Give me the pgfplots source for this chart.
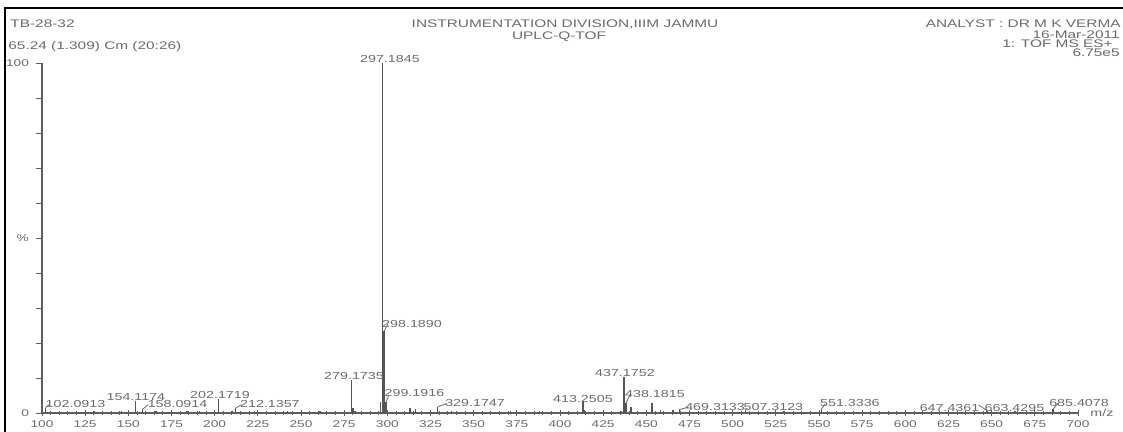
\documentclass[border=0pt]{standalone}
\usepackage{pgfplots}
\pgfplotsset{compat=1.18}
\usepackage{fontspec}
\setmainfont{Liberation Sans}
\newfontfamily\specfont[FakeStretch=1.4]{Liberation Sans}
\newcommand\lab{\specfont\fontsize{5.1}{6}\selectfont}
\newcommand\headlab{\specfont\fontsize{5.5}{6.5}\selectfont}
\newcommand\ticklab{\specfont\fontsize{4.9}{5.5}\selectfont}
\definecolor{inkgrey}{HTML}{6A6A6A}
\definecolor{peakgrey}{HTML}{555555}
\definecolor{axisgrey}{HTML}{5E5E5E}

\begin{document}
\begin{tikzpicture}[x=1pt,y=1pt,
  peaklab/.style={font=\lab, text=inkgrey, inner sep=0pt},
  leader/.style={inkgrey, line width=0.4pt}]
\path[use as bounding box] (-21,-9.5) rectangle (540.5,206.5);
% frame
\draw[black, line width=1.4pt] (-18.5,-9.5) -- (-18.5,202.5) -- (541,202.5);
\begin{axis}[
  at={(0,0)}, anchor=south west, scale only axis,
  width=518pt, height=175pt,
  xmin=100, xmax=700, ymin=0, ymax=100,
  axis x line*=bottom, axis y line*=left,
  axis line style={axisgrey, line width=0.9pt},
  xtick={100,125,...,700}, minor x tick num=4,
  xtick align=center, ytick align=outside,
  major tick length=3pt, minor tick length=2pt,
  ytick={0,10,...,100},
  yticklabels={0,,,,,\%,,,,,100},
  tick style={axisgrey, line width=0.45pt},
  tick label style={font=\ticklab, text=inkgrey},
  /pgf/number format/assume math mode=true,
  xticklabel style={yshift=1pt},
  clip=false,
]
% centroided spectrum, m/z vs relative intensity
\addplot[ycomb, peakgrey, line width=0.75pt, no marks] coordinates {
(102.0913,1.5) (120.1,0.5) (130.2,0.6) (146.1,0.7) (154.1174,3.3)
(158.0914,1.0) (166.1,0.6) (184.1,0.5) (191.2,0.6) (202.1719,4.0)
(210.1,0.6) (212.1357,1.4) (223.1,0.5) (242.2,0.5) (261.1,0.6)
(279.1735,9.3) (280.18,1.5) (281.2,0.6) (296.18,3.0) (297.1845,100)
(298.1890,23.5) (299.1916,3.2) (300.2,0.8) (305.2,0.6) (313.2,1.5)
(316.2,1.2) (329.1747,1.8) (337.2,0.6) (355.2,0.6) (371.2,0.5)
(388.2,0.5) (413.2505,3.3) (414.25,0.8) (435.2,0.7) (437.1752,10.2)
(438.1815,2.8) (441.2,1.6) (453.2,2.8) (458.2,0.8) (465.3,0.8)
(469.3133,1.0) (507.3123,0.7) (529.3,0.5) (551.3336,1.0) (573.3,0.4)
(647.4361,0.6) (663.4295,0.6) (685.4078,1.0)
};
% peak annotations
\node[peaklab] at (axis cs:301.5,101.1) {297.1845};
\node[peaklab] at (axis cs:314.3,25.4) {298.1890};
\draw[leader] (axis cs:298.19,23.5) -- (axis cs:300.4,25.4);
\node[peaklab] at (axis cs:280.7,10.6) {279.1735};
\node[peaklab] at (axis cs:437.6,11.4) {437.1752};
\node[peaklab] at (axis cs:455.0,5.4) {438.1815};
\draw[leader] (axis cs:438.18,2.8) -- (axis cs:440.5,5.2);
\node[peaklab] at (axis cs:413.3,4.0) {413.2505};
\node[peaklab] at (axis cs:154.4,4.6) {154.1174};
\node[peaklab] at (axis cs:203.1,5.1) {202.1719};
\node[peaklab] at (axis cs:119.4,2.6) {102.0913};
\draw[leader] (axis cs:102.09,1.5) -- (axis cs:104.5,2.6);
\node[peaklab] at (axis cs:178.5,2.6) {158.0914};
\draw[leader] (axis cs:158.09,1.0) -- (axis cs:161.5,2.4);
\node[peaklab] at (axis cs:232.0,2.6) {212.1357};
\draw[leader] (axis cs:212.14,1.4) -- (axis cs:215.5,2.4);
\node[peaklab] at (axis cs:315.7,5.7) {299.1916};
\draw[leader] (axis cs:299.19,3.2) -- (axis cs:301.0,5.2);
\node[peaklab] at (axis cs:350.8,2.9) {329.1747};
\draw[leader] (axis cs:329.17,1.8) -- (axis cs:334.5,2.7);
\node[peaklab] at (axis cs:489.8,1.7) {469.3133};
\draw[leader] (axis cs:469.31,1.0) -- (axis cs:474.5,1.7);
\node[peaklab] at (axis cs:523.6,1.7) {507.3123};
\draw[leader] (axis cs:507.31,0.7) -- (axis cs:508.5,1.4);
\node[peaklab] at (axis cs:567.9,2.9) {551.3336};
\draw[leader] (axis cs:551.33,1.0) -- (axis cs:553.5,2.6);
\node[peaklab] at (axis cs:625.6,1.4) {647.4361};
\draw[leader] (axis cs:642.5,2.3) -- (axis cs:647.44,0.6);
\node[peaklab] at (axis cs:663.2,1.4) {663.4295};
\node[peaklab] at (axis cs:700.6,2.9) {685.4078};
\draw[leader] (axis cs:685.41,1.0) -- (axis cs:688.5,2.8);
\node[peaklab, anchor=west] at (axis cs:700,0) [xshift=6pt] {m/z};
\end{axis}
% header
\begin{scope}[every node/.style={font=\headlab, text=inkgrey, inner sep=0pt}]
\node[anchor=west] at (-16,194.5) {TB-28-32};
\node[anchor=west] at (-17,183) {65.24 (1.309) Cm (20:26)};
\node at (261.5,194.5) {INSTRUMENTATION DIVISION,IIIM JAMMU};
\node at (258.5,188) {UPLC-Q-TOF};
\node[anchor=east] at (539.5,194.5) {ANALYST : DR M K VERMA};
\node[anchor=east] at (539,189) {16-Mar-2011};
\node[anchor=east] at (535.5,184.5) {1: TOF MS ES+};
\node[anchor=east] at (539,180) {6.75e5};
\end{scope}
\end{tikzpicture}
\end{document}
